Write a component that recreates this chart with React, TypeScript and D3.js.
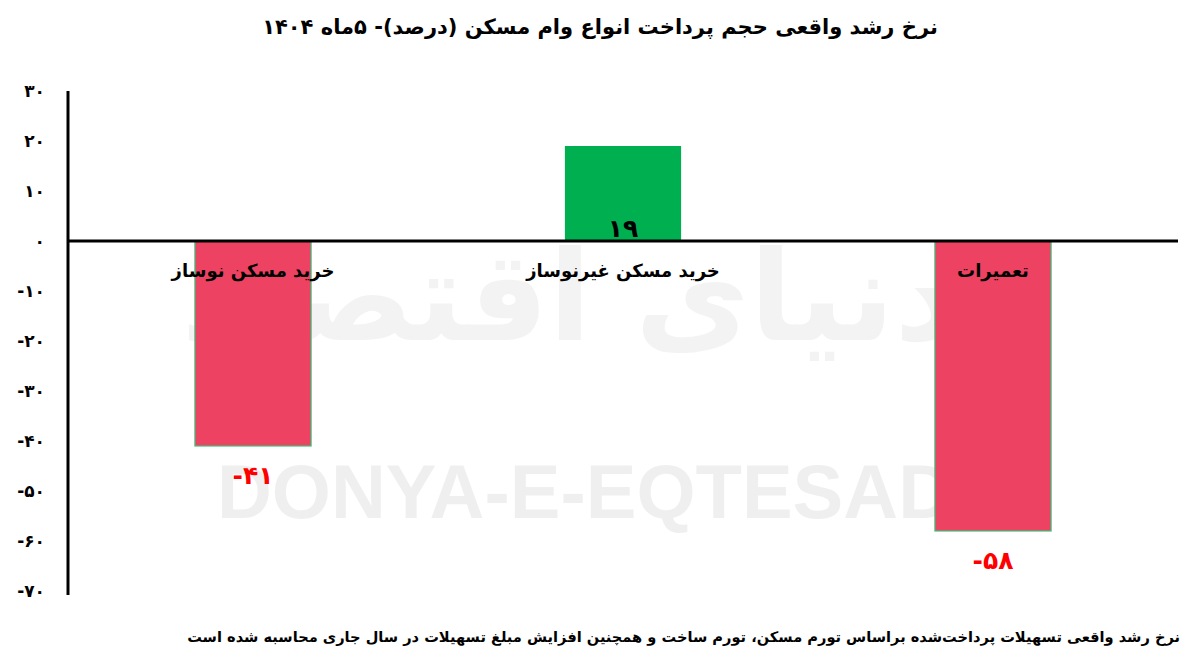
import React from "react";
import * as d3 from "d3";

const categories = ["خرید مسکن نوساز", "خرید مسکن غیرنوساز", "تعمیرات"];
const values = [-41, 19, -58];
const tickValues = [30, 20, 10, 0, -10, -20, -30, -40, -50, -60, -70];
const title = "نرخ رشد واقعی حجم پرداخت انواع وام مسکن (درصد)- ۵ماه ۱۴۰۴";
const footnote =
  "نرخ رشد واقعی تسهیلات پرداخت‌شده براساس تورم مسکن، تورم ساخت و همچنین افزایش مبلغ تسهیلات در سال جاری محاسبه شده است";

const W = 1200;
const H = 670;
const FONT = "'DejaVu Sans', sans-serif";

const faDigits = "۰۱۲۳۴۵۶۷۸۹";
const toFa = (n: number) => String(n).replace(/\d/g, (d) => faDigits[+d]);

export default function App() {
  const y = d3.scaleLinear().domain([-70, 30]).range([591, 91]);
  const x = d3
    .scaleBand<string>()
    .domain(categories)
    .range([68, 1178])
    .paddingInner(0.686)
    .paddingOuter(0.343);
  const bw = x.bandwidth();
  const y0 = y(0);

  return (
    <svg
      width={W}
      height={H}
      style={{ position: "absolute", left: 0, top: 0, background: "#fff" }}
      fontFamily={FONT}
    >
      <rect x={0} y={0} width={W} height={H} fill="#fff" />
      {/* watermarks */}
      <text
        x={570}
        y={340}
        textAnchor="middle"
        fontSize={125}
        fill="#000"
        opacity={0.045}
        fontWeight="bold"
        direction="rtl"
      >
        دنیای اقتصاد
      </text>
      <text
        x={585}
        y={518}
        textAnchor="middle"
        fontSize={76}
        fontWeight="bold"
        fill="#000"
        opacity={0.06}
        fontFamily="'Liberation Sans', Arial, sans-serif"
      >
        DONYA-E-EQTESAD
      </text>

      <text
        x={600}
        y={34}
        textAnchor="middle"
        fontSize={21}
        fontWeight="bold"
        fill="#000"
        direction="rtl"
      >
        {title}
      </text>

      {/* y tick labels */}
      {tickValues.map((t) => (
        <text
          key={t}
          x={45}
          y={y(t)}
          dy="0.35em"
          textAnchor="end"
          fontSize={17}
          fontWeight="bold"
          fill="#000"
          direction="ltr"
        >
          {(t < 0 ? "-" : "") + toFa(Math.abs(t))}
        </text>
      ))}

      {/* bars */}
      {categories.map((c, i) => {
        const v = values[i];
        const top = v >= 0 ? y(v) : y0;
        const h = Math.abs(y(v) - y0);
        return (
          <rect
            key={c}
            x={x(c)}
            y={top}
            width={bw}
            height={h}
            fill={v >= 0 ? "#00B050" : "#EE4262"}
            stroke={v >= 0 ? "none" : "#3CC47C"}
            strokeWidth={1.2}
          />
        );
      })}

      {/* axes */}
      <line x1={68} x2={68} y1={91} y2={595} stroke="#000" strokeWidth={3} />
      <line x1={68} x2={1178} y1={y0} y2={y0} stroke="#000" strokeWidth={3} />

      {/* category labels */}
      {categories.map((c) => (
        <text
          key={c}
          x={(x(c) as number) + bw / 2}
          y={277}
          textAnchor="middle"
          fontSize={18}
          fontWeight="bold"
          fill="#000"
          direction="rtl"
        >
          {c}
        </text>
      ))}

      {/* value labels */}
      {categories.map((c, i) => {
        const v = values[i];
        const cx = (x(c) as number) + bw / 2;
        const label = (v < 0 ? "-" : "") + toFa(Math.abs(v));
        return (
          <text
            key={c}
            x={cx}
            y={v >= 0 ? y0 - 4 : y(v) + 38}
            textAnchor="middle"
            fontSize={25}
            fontWeight="bold"
            fill={v >= 0 ? "#000" : "#FF0000"}
            direction="ltr"
          >
            {label}
          </text>
        );
      })}

      <text
        x={1180}
        y={642}
        textAnchor="start"
        fontSize={14.6}
        fontWeight="bold"
        fill="#000"
        direction="rtl"
      >
        {footnote}
      </text>
    </svg>
  );
}
